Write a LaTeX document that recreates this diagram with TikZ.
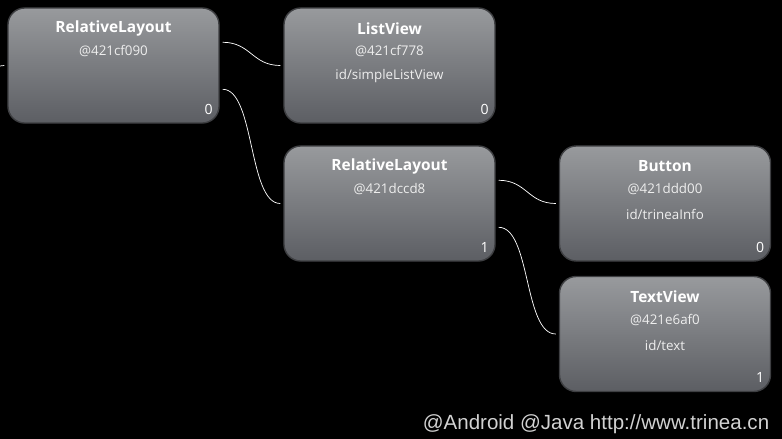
\documentclass[tikz,border=0pt]{standalone}
\usepackage{fontspec}
\setmainfont{Open Sans}
\newfontfamily\markfont{Liberation Sans}
\usetikzlibrary{positioning}
\definecolor{boxtop}{HTML}{989A9D}
\definecolor{boxbottom}{HTML}{5C5E63}
\definecolor{boxrim}{HTML}{3E3F42}
\definecolor{textgray}{HTML}{EEEEEE}
\definecolor{markgray}{HTML}{D2D2D2}

% one view of the hierarchy: name, centre, title, hash, id, index
\newcommand{\androidview}[6]{%
  \node[viewbox] (#1) at (#2) {};
  \node[viewtitle] (#1-title) at ([yshift=-0.53cm]#1.north) {#3};
  \node[viewhash] (#1-hash) at ([yshift=-1.1cm]#1.north) {#4};
  \node[viewhash] (#1-id) at ([yshift=-1.73cm]#1.north) {#5};
  \node[viewindex] (#1-index) at ([xshift=-0.275cm,yshift=0.36cm]#1.south east) {#6};
}

\begin{document}
\begin{tikzpicture}[x=0.025cm, y=-0.025cm,
        viewbox/.style={draw=boxrim, line width=1pt, rounded corners=0.42cm,
            top color=boxtop, bottom color=boxbottom,
            minimum width=5.275cm, minimum height=2.875cm, inner sep=0pt},
        viewtitle/.style={font=\bfseries\fontsize{11}{13}\selectfont, text=white, inner sep=0pt},
        viewhash/.style={font=\fontsize{9.5}{11}\selectfont, text=textgray, inner sep=0pt},
        viewindex/.style={font=\fontsize{10}{11}\selectfont, text=white, inner sep=0pt},
        wire/.style={draw=white, line width=0.5pt}]
    \fill[black] (0,0) rectangle (782,439);
    \useasboundingbox (0,0) rectangle (782,439);

    \androidview{root}{113.5,65.5}{RelativeLayout}{@421cf090}{}{0}
    \androidview{list}{389.5,65.5}{ListView}{@421cf778}{id/simpleListView}{0}
    \androidview{inner}{389.5,203.5}{RelativeLayout}{@421dccd8}{}{1}
    \androidview{button}{665,203.5}{Button}{@421ddd00}{id/trineaInfo}{0}
    \androidview{text}{665,334}{TextView}{@421e6af0}{id/text}{1}

    % wires from parent to children
    \coordinate (parent) at (0,66);
    \draw[wire] (parent) -- ([xshift=-0.075cm]root.west);
    \draw[wire] ([xshift=0.075cm,yshift=-0.875cm]root.north east)
        .. controls +(0.7cm,0) and +(-0.7cm,0) .. ([xshift=-0.075cm]list.west);
    \draw[wire] ([xshift=0.075cm,yshift=-2.05cm]root.north east)
        .. controls +(0.8cm,0) and +(-0.8cm,0) .. ([xshift=-0.075cm]inner.west);
    \draw[wire] ([xshift=0.075cm,yshift=-0.875cm]inner.north east)
        .. controls +(0.7cm,0) and +(-0.7cm,0) .. ([xshift=-0.075cm]button.west);
    \draw[wire] ([xshift=0.075cm,yshift=-2.05cm]inner.north east)
        .. controls +(0.8cm,0) and +(-0.8cm,0) .. ([xshift=-0.075cm]text.west);

    \node[font=\markfont\fontsize{14.6}{17}\selectfont, text=markgray, inner sep=0pt]
        (mark) at (596,424) {@Android @Java http://www.trinea.cn};
\end{tikzpicture}
\end{document}
